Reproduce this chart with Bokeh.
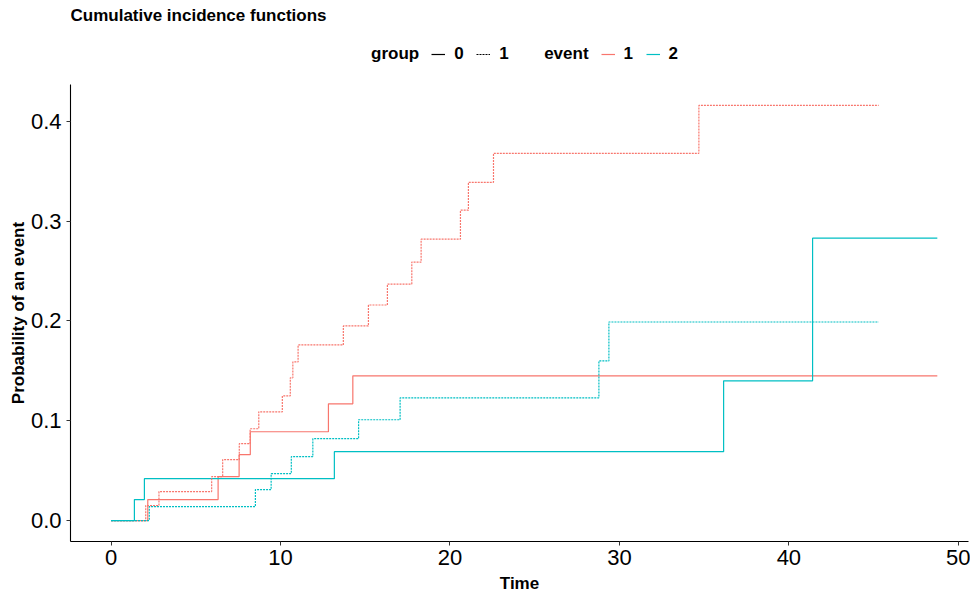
from bokeh.plotting import figure
from bokeh.layouts import column
from bokeh.models import Legend, LegendItem, FixedTicker, PrintfTickFormatter, Range1d, Label
from bokeh.core.properties import value
from bokeh.embed import file_html
from bokeh.resources import INLINE

# ---- data ----
# group 0, event 1
time_g0_e1 = [0, 2.17, 6.32, 7.56, 8.22, 12.83, 14.27, 48.76]
cif_g0_e1 = [0, 0.021, 0.044, 0.066, 0.089, 0.117, 0.145, 0.145]
# group 0, event 2
time_g0_e2 = [0, 1.38, 1.97, 13.18, 36.15, 41.40, 48.76]
cif_g0_e2 = [0, 0.021, 0.042, 0.069, 0.140, 0.283, 0.283]
# group 1, event 1
time_g1_e1 = [0, 2.05, 2.83, 5.94, 6.59, 7.57, 8.21, 8.72, 10.11, 10.58, 10.73,
              11.04, 13.71, 15.19, 16.31, 17.75, 18.30, 20.62, 21.09, 22.57, 34.69, 45.30]
cif_g1_e1 = [0, 0.015, 0.029, 0.044, 0.061, 0.077, 0.092, 0.109, 0.125, 0.143, 0.159,
             0.176, 0.195, 0.216, 0.237, 0.259, 0.282, 0.311, 0.339, 0.368, 0.416, 0.416]
# group 1, event 2
time_g1_e2 = [0, 2.26, 8.52, 9.45, 10.64, 11.91, 14.61, 17.06, 28.79, 29.38, 45.30]
cif_g1_e2 = [0, 0.014, 0.031, 0.047, 0.064, 0.082, 0.101, 0.123, 0.160, 0.199, 0.199]

x_ticks = [0, 10, 20, 30, 40, 50]
y_ticks = [0.0, 0.1, 0.2, 0.3, 0.4]
group_labels = ["0", "1"]
event_labels = ["1", "2"]
title_text = "Cumulative incidence functions"

RED = "#F8766D"
TEAL = "#00BFC4"
FONT = "Liberation Sans"
LW = 1.2
DOT = "2 1"
W = 970
TOP_H = 84
MAIN_H = 596 - TOP_H
LEFT = 70
RIGHT = 968
NAN = [float("nan")]

# ---------- header figure: title + legend ----------
head = figure(width=W, height=TOP_H, output_backend="svg", toolbar_location=None,
              x_range=Range1d(LEFT, RIGHT), y_range=Range1d(TOP_H, 0),
              min_border_left=LEFT, min_border_right=W - RIGHT, min_border_top=0,
              min_border_bottom=0, x_axis_type=None, y_axis_type=None)
head.outline_line_color = None
head.xgrid.visible = False
head.ygrid.visible = False
head.background_fill_color = "white"
head.border_fill_color = "white"

head.add_layout(Label(x=70, y=15, text=title_text, text_font=FONT, text_font_size="17px",
                      text_font_style="bold", text_color="black", text_baseline="middle"))

# legend key renderers (no visible data; they only lend their style to the legend)
kg = head.line(NAN, NAN, line_alpha=0)
k0 = head.line(NAN, NAN, line_color="black", line_width=LW)
k1 = head.line(NAN, NAN, line_color="black", line_width=LW, line_dash=DOT)
kb = head.line(NAN, NAN, line_alpha=0)
ke1 = head.line(NAN, NAN, line_color=RED, line_width=LW)
ke2 = head.line(NAN, NAN, line_color=TEAL, line_width=LW)

legend = Legend(items=[
    LegendItem(label=value("group"), renderers=[kg]),
    LegendItem(label=value(group_labels[0]), renderers=[k0]),
    LegendItem(label=value(group_labels[1]), renderers=[k1]),
    LegendItem(label=value("event"), renderers=[kb]),
    LegendItem(label=value(event_labels[0]), renderers=[ke1]),
    LegendItem(label=value(event_labels[1]), renderers=[ke2]),
], orientation="horizontal", location=(278, 20))
legend.label_text_font = FONT
legend.label_text_font_size = "17px"
legend.label_text_font_style = "bold"
legend.label_text_color = "black"
legend.glyph_width = 14
legend.glyph_height = 18
legend.label_standoff = 9
legend.label_width = 10
legend.spacing = 12
legend.padding = 0
legend.margin = 0
legend.border_line_color = None
legend.background_fill_alpha = 0
head.add_layout(legend, "center")

# ---------- main plot ----------
p = figure(width=W, height=MAIN_H, output_backend="svg", toolbar_location=None,
           x_range=Range1d(-2.39, 50.6), y_range=Range1d(-0.021, 0.437),
           min_border_left=LEFT, min_border_right=W - RIGHT, min_border_top=0,
           min_border_bottom=55)
p.outline_line_color = None
p.xgrid.visible = False
p.ygrid.visible = False
p.background_fill_color = "white"
p.border_fill_color = "white"

p.step(time_g0_e1, cif_g0_e1, mode="after", line_color=RED, line_width=LW)
p.step(time_g0_e2, cif_g0_e2, mode="after", line_color=TEAL, line_width=LW)
p.step(time_g1_e1, cif_g1_e1, mode="after", line_color=RED, line_width=LW, line_dash=DOT)
p.step(time_g1_e2, cif_g1_e2, mode="after", line_color=TEAL, line_width=LW, line_dash=DOT)

for ax in (p.xaxis[0], p.yaxis[0]):
    ax.axis_line_color = "black"
    ax.axis_line_width = 1.1
    ax.major_tick_line_color = "#333333"
    ax.major_tick_out = 4
    ax.major_tick_in = 0
    ax.minor_tick_line_color = None
    ax.major_label_text_font = FONT
    ax.major_label_text_font_size = "22px"
    ax.major_label_text_color = "black"
    ax.axis_label_text_font = FONT
    ax.axis_label_text_font_size = "17px"
    ax.axis_label_text_font_style = "bold"
    ax.axis_label_text_color = "black"

p.xaxis.ticker = FixedTicker(ticks=x_ticks)
p.yaxis.ticker = FixedTicker(ticks=y_ticks)
p.yaxis.formatter = PrintfTickFormatter(format="%.1f")
p.xaxis.axis_label = "Time"
p.yaxis.axis_label = "Probability of an event"
p.xaxis.major_label_standoff = 4
p.yaxis.major_label_standoff = 5
p.xaxis.axis_label_standoff = 6
p.yaxis.axis_label_standoff = 0

layout = column(head, p, spacing=0)
open("out.html", "w").write(file_html(layout, INLINE))
